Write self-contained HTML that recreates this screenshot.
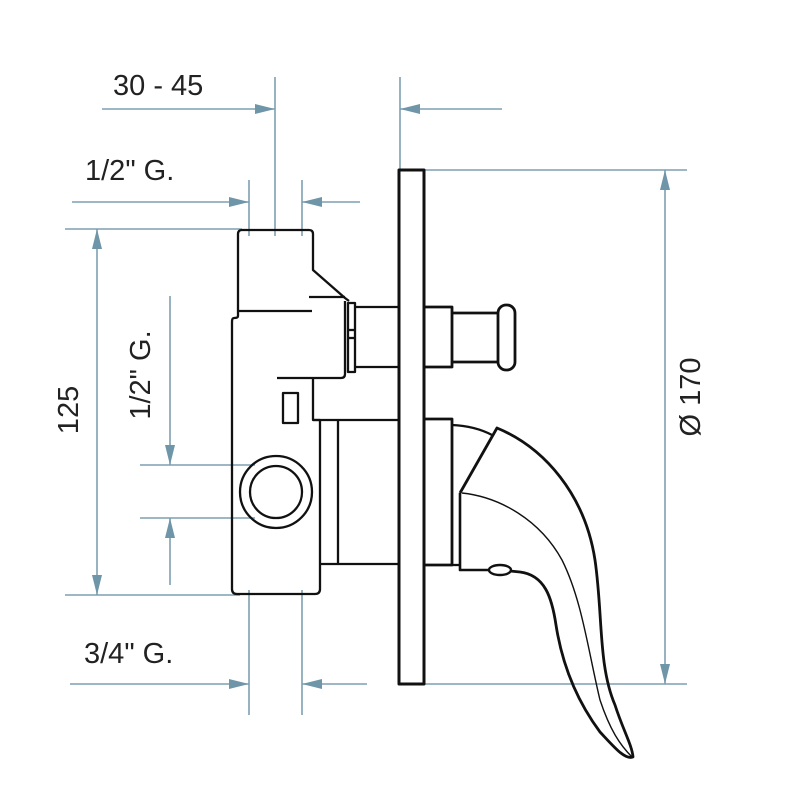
<!DOCTYPE html>
<html><head><meta charset="utf-8"><style>html,body{margin:0;padding:0;background:#fff}svg{display:block}</style></head>
<body>
<svg width="800" height="800" viewBox="0 0 800 800" xmlns="http://www.w3.org/2000/svg">
<defs>
<marker id="a" viewBox="0 0 20 10" refX="20" refY="5" markerWidth="20" markerHeight="10" markerUnits="userSpaceOnUse" orient="auto-start-reverse"><path d="M0,0 L20,5 L0,10 Z" fill="#6f95a9"/></marker>
</defs>
<g stroke="#7d9fb1" stroke-width="1.6" fill="none">
<!-- 30-45 -->
<line x1="102" y1="109" x2="275" y2="109" marker-end="url(#a)"/>
<line x1="275" y1="77" x2="275" y2="236"/>
<line x1="400" y1="77" x2="400" y2="170"/>
<line x1="502" y1="109" x2="400" y2="109" marker-end="url(#a)"/>
<!-- 1/2 top -->
<line x1="72" y1="202" x2="249" y2="202" marker-end="url(#a)"/>
<line x1="249" y1="180" x2="249" y2="236"/>
<line x1="302" y1="180" x2="302" y2="236"/>
<line x1="360" y1="202" x2="302" y2="202" marker-end="url(#a)"/>
<!-- 125 -->
<line x1="65" y1="229" x2="242" y2="229"/>
<line x1="65" y1="595" x2="240" y2="595"/>
<line x1="97" y1="229" x2="97" y2="595" marker-start="url(#a)" marker-end="url(#a)"/>
<!-- 1/2 vertical -->
<line x1="170" y1="296" x2="170" y2="465" marker-end="url(#a)"/>
<line x1="140" y1="465" x2="255" y2="465"/>
<line x1="140" y1="518" x2="255" y2="518"/>
<line x1="170" y1="585" x2="170" y2="518" marker-end="url(#a)"/>
<!-- 3/4 -->
<line x1="70" y1="684" x2="249" y2="684" marker-end="url(#a)"/>
<line x1="249" y1="590" x2="249" y2="715"/>
<line x1="302" y1="590" x2="302" y2="715"/>
<line x1="367" y1="684" x2="302" y2="684" marker-end="url(#a)"/>
<!-- 170 -->
<line x1="424" y1="170" x2="687" y2="170"/>
<line x1="424" y1="684" x2="687" y2="684"/>
<line x1="665" y1="170" x2="665" y2="684" marker-start="url(#a)" marker-end="url(#a)"/>
</g>
<g font-family="Liberation Sans, sans-serif" font-size="29" fill="#222">
<text x="113" y="95">30 - 45</text>
<text x="85" y="180">1/2" G.</text>
<text x="84" y="663">3/4" G.</text>
<text transform="translate(78,410) rotate(-90)" text-anchor="middle">125</text>
<text transform="translate(150,375) rotate(-90)" text-anchor="middle">1/2" G.</text>
<text transform="translate(700,397) rotate(-90)" text-anchor="middle">Ø 170</text>
</g>
<g stroke="#111" stroke-width="2.3" fill="none" stroke-linejoin="round">
<!-- plate -->
<rect x="399" y="170" width="25" height="514" stroke-width="3"/>
<!-- top block -->
<path d="M238,311 L238,234 Q238,230 242,230 L309,230 Q313,230 313,234 L313,270 L345,298 L349,301"/>
<line x1="238" y1="311" x2="312" y2="311"/>
<line x1="309" y1="297" x2="345" y2="297"/>
<!-- lower body -->
<path d="M238,311 L238,316 Q238,318 234,318 Q232,318 232,322 L232,589 Q232,594 237,594 L315,594 Q320,594 320,589 L320,420 L313,420 L313,378"/>
<path d="M277,378 L341,378 Q345,378 345,374 L345,301"/>
<line x1="313" y1="420" x2="399" y2="420"/>
<line x1="338" y1="420" x2="338" y2="564"/>
<line x1="320" y1="564" x2="399" y2="564"/>
<rect x="283" y="393" width="15" height="30"/>
<circle cx="276" cy="492" r="36"/>
<circle cx="276" cy="492" r="26"/>
<!-- stem -->
<rect x="348" y="303" width="7" height="69"/>
<line x1="348" y1="330" x2="355" y2="330"/>
<line x1="348" y1="338" x2="355" y2="338"/>
<line x1="355" y1="307" x2="399" y2="307"/>
<line x1="355" y1="367" x2="399" y2="367"/>
<!-- knob -->
<path d="M424,307 L452,307 L452,367 L424,367" stroke-width="2.8"/>
<line x1="452" y1="313" x2="498" y2="313" stroke-width="2.8"/>
<line x1="452" y1="362" x2="498" y2="362" stroke-width="2.8"/>
<rect x="498" y="305" width="17" height="65" rx="8" stroke-width="2.8"/>
<!-- lever base -->
<path d="M424,419 L452,419 L452,565 L424,565" stroke-width="2.8"/>
<path d="M452,425 Q475,426 492,435"/>
<line x1="452" y1="565" x2="460" y2="565"/>
<path d="M460,493 L460,570 L490,570" stroke-width="2.6"/>
<!-- lever -->
<path d="M460,493 L497,428 C545,448 585,495 595,560 C603,615 598,665 615,705 C623,730 632,745 633,757 C625,760 615,748 600,732 C580,705 563,670 556,625 C552,598 545,575 520,572 L510,571" stroke-width="2.8"/>
<ellipse cx="500" cy="570" rx="11" ry="5" stroke-width="2.4"/>
<path d="M462,493 C500,497 540,520 562,560 C582,600 588,650 600,700 C610,730 620,745 632,757" stroke-width="1.4"/>
</g>
</svg>
</body></html>
